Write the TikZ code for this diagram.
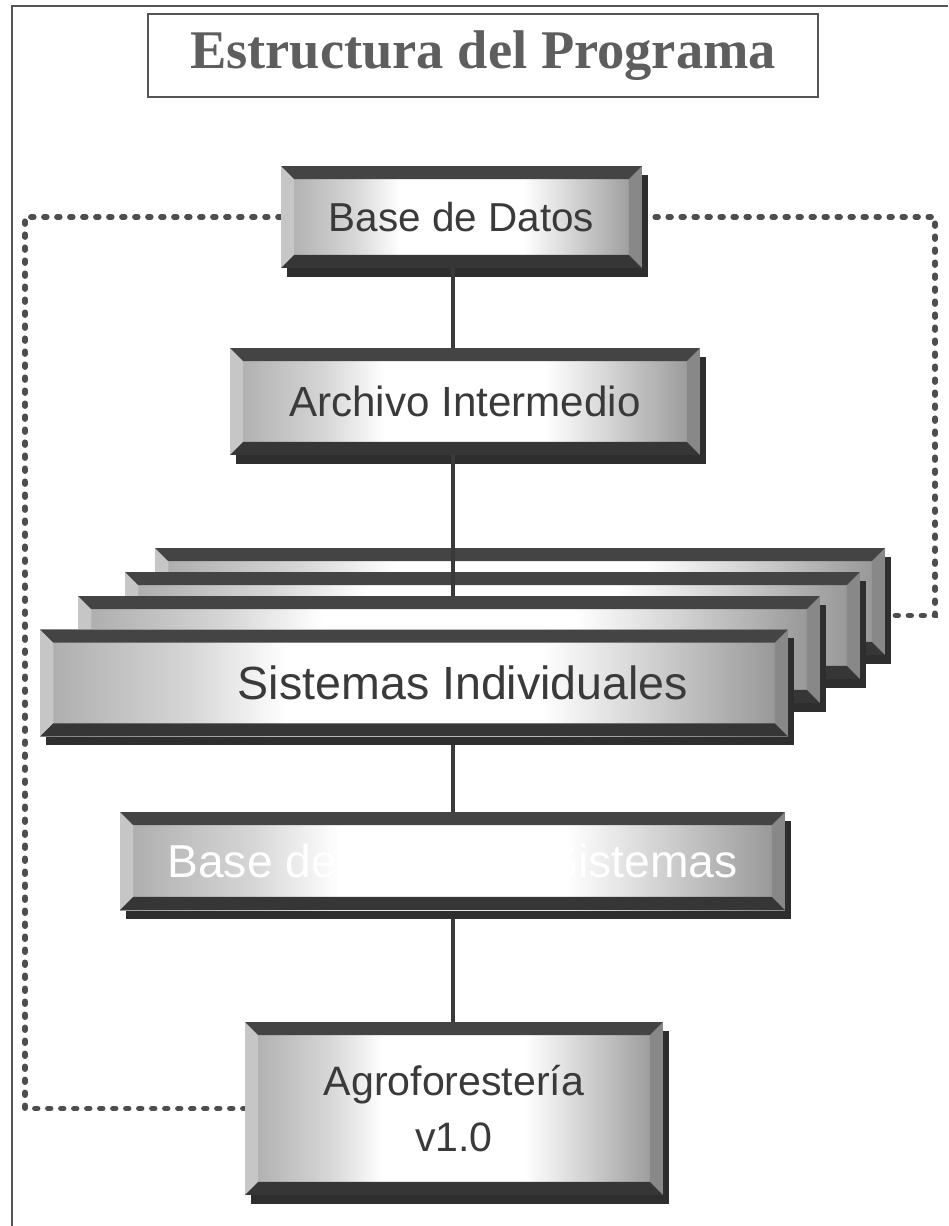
\documentclass[tikz,border=0pt]{standalone}
\usepackage{fontspec}
\newfontfamily\boxfont{Liberation Sans}
\newfontfamily\titlefont{Liberation Serif}
\usetikzlibrary{shadows}

\definecolor{inkgray}{HTML}{3A3A3A}
\definecolor{titlegray}{HTML}{5E5E5E}
\definecolor{framegray}{HTML}{555555}
\definecolor{bevtop}{HTML}{444444}
\definecolor{bevbot}{HTML}{363636}
\definecolor{bevleft}{HTML}{C6C6C6}
\definecolor{bevright}{HTML}{888888}
\definecolor{shadowgray}{HTML}{2E2E2E}
\definecolor{faceL}{HTML}{ABABAB}
\definecolor{faceM}{HTML}{D6D6D6}
\definecolor{faceR}{HTML}{939393}
\definecolor{dotgray}{HTML}{4E4E4E}

\pgfdeclarelayer{back}
\pgfdeclarelayer{front}
\pgfsetlayers{back,main,front}

% face of the bevelled boxes: grey at the sides, white in the middle
\pgfdeclarehorizontalshading{bevface}{100bp}{color(0bp)=(faceL); color(25bp)=(faceL);
  color(35bp)=(faceM); color(41.5bp)=(white); color(58.5bp)=(white);
  color(65bp)=(faceM); color(75bp)=(faceR); color(100bp)=(faceR)}

\def\bw{7.5pt}

\tikzset{
  bevelbox/.style={inner sep=0pt, align=center, font=\boxfont, text=inkgray,
    shading=bevface,
    drop shadow={shadow xshift=3.5pt, shadow yshift=-5pt, fill=shadowgray, opacity=1},
    path picture={
      \coordinate (bnw) at (path picture bounding box.north west);
      \coordinate (bne) at (path picture bounding box.north east);
      \coordinate (bsw) at (path picture bounding box.south west);
      \coordinate (bse) at (path picture bounding box.south east);
      % four bevels round the face
      \fill[bevleft] (bnw) -- ([xshift=\bw,yshift=-\bw]bnw) -- ([xshift=\bw,yshift=\bw]bsw) -- (bsw) -- cycle;
      \fill[bevright] (bne) -- ([xshift=-\bw,yshift=-\bw]bne) -- ([xshift=-\bw,yshift=\bw]bse) -- (bse) -- cycle;
      \fill[bevtop] (bnw) -- (bne) -- ([xshift=-\bw,yshift=-\bw]bne) -- ([xshift=\bw,yshift=-\bw]bnw) -- cycle;
      \fill[bevbot] (bsw) -- (bse) -- ([xshift=-\bw,yshift=\bw]bse) -- ([xshift=\bw,yshift=\bw]bsw) -- cycle;
    }},
  titlebox/.style={draw=framegray, line width=0.8pt, inner sep=0pt,
    minimum width=13.4cm, minimum height=1.66cm, text=titlegray,
    font=\titlefont\bfseries\fontsize{31}{36}\selectfont},
  link/.style={draw=inkgray, line width=2.8pt},
  dotline/.style={draw=dotgray, line width=3.3pt, line cap=round,
    dash pattern=on 1.5pt off 5.9pt},
}

\begin{document}
\begin{tikzpicture}[x=0.02cm, y=-0.02cm]
    \useasboundingbox (0,0) rectangle (948,1226);

    % page frame
    \draw[framegray, line width=0.8pt] (12,1226) -- (12,6) -- (948,6);

    \node[titlebox] (title) at (483,55.5) {Estructura del Programa};

    \coordinate (spine) at (453,0);
    \coordinate (leftrail) at (25,600);
    \coordinate (rightrail) at (935,400);

    % boxes
    \node[bevelbox, minimum width=7.22cm, minimum height=2.04cm,
      font=\boxfont\fontsize{23}{28}\selectfont] (datos) at (461.5,217) {Base de Datos};
    \node[bevelbox, minimum width=9.4cm, minimum height=2.14cm,
      font=\boxfont\fontsize{24}{28}\selectfont] (archivo) at (465,401.5) {Archivo Intermedio};

    % stack of individual systems, back to front
    \node[bevelbox, minimum width=14.6cm, minimum height=2.14cm] (sisD) at (520,601.5) {};
    \node[bevelbox, minimum width=14.7cm, minimum height=2.14cm] (sisC) at (492.5,625.5) {};
    \begin{pgfonlayer}{front}
    \node[bevelbox, minimum width=14.84cm, minimum height=2.14cm] (sisB) at (449,649.5) {};
    \node[bevelbox, minimum width=14.96cm, minimum height=2.14cm,
      font=\boxfont\fontsize{26.5}{30}\selectfont] (sis) at (414,683) {\hspace*{1.96cm}Sistemas Individuales};
    \node[bevelbox, minimum width=13.3cm, minimum height=1.96cm, text=white,
      font=\boxfont\fontsize{26.3}{30}\selectfont] (bds) at (452.5,861) {Base de Datos de Sistemas};
    \node[bevelbox, minimum width=8.36cm, minimum height=3.46cm,
      font=\boxfont\fontsize{23.4}{32}\selectfont] (agro) at (454,1108.5) {Agroforester\'ia\\v1.0};
    \end{pgfonlayer}

    % links down the spine
    \draw[link] (datos.south -| spine) -- (archivo.north -| spine);
    \draw[link] (archivo.south -| spine) -- (sisB.north -| spine);
    \draw[link] (sis.south -| spine) -- (bds.north -| spine);
    \draw[link] (bds.south -| spine) -- (agro.north -| spine);

    % dotted feedback lines
    \begin{pgfonlayer}{back}
    \draw[dotline] (datos.west) -| (leftrail) |- (agro.west);
    \draw[dotline] (datos.east) -| (rightrail) |- ([yshift=-8pt]sisD.east);
    \end{pgfonlayer}
\end{tikzpicture}
\end{document}
